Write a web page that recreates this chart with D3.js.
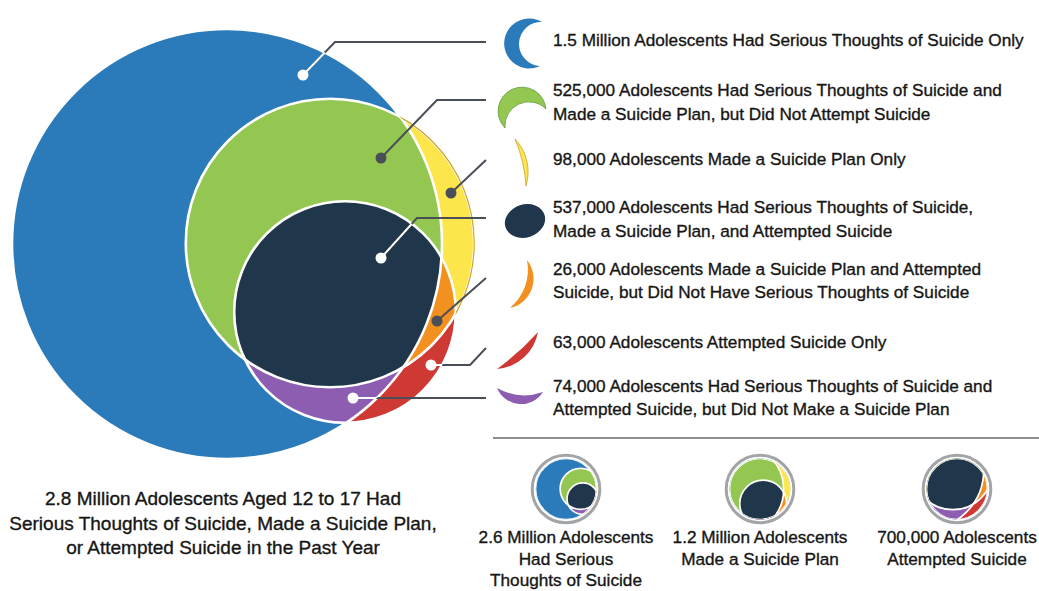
<!DOCTYPE html>
<html><head><meta charset="utf-8">
<script src="https://cdn.jsdelivr.net/npm/d3@7"></script>
<style>
body{margin:0;background:#fff;}
text{font-family:"Liberation Sans Narrow","Arial Narrow","Liberation Sans",sans-serif;fill:#161616;stroke:#161616;stroke-width:0.35px;font-size:17.2px;}
</style></head><body>
<svg id="chart" width="1039" height="591"></svg>
<script>
// ---------------- data ----------------
const regionKeys = ["T","TP","P","TPA","PA","A","TA"]; // T = thoughts, P = plan, A = attempt
const regionValues = [1500000, 525000, 98000, 537000, 26000, 63000, 74000];
const regionColors = ["#2b7bbb","#94c751","#fde64b","#20364a","#f29020","#cf3934","#8d5db2"];
const regionText = [
  ["Had Serious Thoughts of Suicide Only"],
  ["Had Serious Thoughts of Suicide and","Made a Suicide Plan, but Did Not Attempt Suicide"],
  ["Made a Suicide Plan Only"],
  ["Had Serious Thoughts of Suicide,","Made a Suicide Plan, and Attempted Suicide"],
  ["Made a Suicide Plan and Attempted","Suicide, but Did Not Have Serious Thoughts of Suicide"],
  ["Attempted Suicide Only"],
  ["Had Serious Thoughts of Suicide and","Attempted Suicide, but Did Not Make a Suicide Plan"]
];
const setKeys = ["T","P","A"];
const setText = [["Had Serious","Thoughts of Suicide"],["Made a Suicide Plan"],["Attempted Suicide"]];
const totalText = ["Aged 12 to 17 Had","Serious Thoughts of Suicide, Made a Suicide Plan,","or Attempted Suicide in the Past Year"];

// ---------------- helpers ----------------
const fmt = v => v >= 1e6 ? d3.format(".1f")(v/1e6) + " Million" : d3.format(",")(Math.round(v/1000)*1000);
const col = {}; regionKeys.forEach((k,i)=>col[k]=regionColors[i]);
const svg = d3.select("#chart");
const defs = svg.append("defs");

const total = d3.sum(regionValues);
const setTotals = setKeys.map(k => d3.sum(regionValues.filter((v,i)=>regionKeys[i].includes(k))));
const rScale = d3.scaleSqrt().domain([0, d3.max(setTotals)]).range([0, 215]);
const centers = {T:[227,244], P:[330,243], A:[345,312]};
const circ = {};
setKeys.forEach((k,i)=>circ[k] = {x:centers[k][0], y:centers[k][1], r:rScale(setTotals[i])});

setKeys.forEach(k => defs.append("clipPath").attr("id","clip"+k)
  .append("circle").attr("cx",circ[k].x).attr("cy",circ[k].y).attr("r",circ[k].r));
const mk = defs.append("mask").attr("id","maskOut").attr("maskUnits","userSpaceOnUse")
  .attr("x",-2000).attr("y",-2000).attr("width",5000).attr("height",5000);
mk.append("rect").attr("x",-2000).attr("y",-2000).attr("width",5000).attr("height",5000).attr("fill","#fff");
["T","A"].forEach(k=>mk.append("circle").attr("cx",circ[k].x).attr("cy",circ[k].y).attr("r",circ[k].r).attr("fill","#000"));

function drawVenn(g, sw){
  const c = (parent,k) => parent.append("circle").attr("cx",circ[k].x).attr("cy",circ[k].y).attr("r",circ[k].r);
  c(g,"T").attr("fill",col.T);
  c(g,"P").attr("fill",col.P);
  c(g,"A").attr("fill",col.A);
  c(g,"P").attr("fill",col.TP).attr("clip-path","url(#clipT)");
  c(g,"A").attr("fill",col.PA).attr("clip-path","url(#clipP)");
  c(g,"A").attr("fill",col.TA).attr("clip-path","url(#clipT)");
  const gg = g.append("g").attr("clip-path","url(#clipP)");
  c(gg,"A").attr("fill",col.TPA).attr("clip-path","url(#clipT)");
  setKeys.forEach(k => c(g,k).attr("fill","none").attr("stroke","#fff").attr("stroke-width",sw));
  c(g,"P").attr("fill","none").attr("stroke","#c9a230").attr("stroke-width",sw*0.45).attr("mask","url(#maskOut)");
}

// ---------------- main venn ----------------
drawVenn(svg.append("g"), 2.6);

// leaders
const lineCol = "#4a4e58";
const leaders = [
  {pts:[[303,75],[335,42],[486,42]], dot:"#fff", clip:["T"]},
  {pts:[[381,158],[437,100],[486,100]], dot:lineCol},
  {pts:[[451,193],[486,160]], dot:lineCol},
  {pts:[[381,258],[417,218],[486,218]], dot:"#fff", clip:["A"]},
  {pts:[[437,321],[486,278]], dot:lineCol},
  {pts:[[431,365],[470,365],[486,348]], dot:"#fff", clip:["A"]},
  {pts:[[353,398],[486,398]], dot:"#fff", clip:["A","T"]}
];
const line = d3.line();
const lg = svg.append("g");
leaders.forEach(L=>{
  lg.append("path").attr("d",line(L.pts)).attr("fill","none").attr("stroke",lineCol).attr("stroke-width",2);
  if(L.clip){
    let p = lg;
    L.clip.slice(1).forEach(k=>{p = p.append("g").attr("clip-path","url(#clip"+k+")");});
    p.append("path").attr("d",line(L.pts)).attr("fill","none").attr("stroke","#fff").attr("stroke-width",2)
      .attr("clip-path","url(#clip"+L.clip[0]+")");
  }
  lg.append("circle").attr("cx",L.pts[0][0]).attr("cy",L.pts[0][1]).attr("r",5.5).attr("fill",L.dot);
});

// legend icons
const arcPath = (t1,t2,r1,l1,s1,r2,l2,s2) =>
  `M${t1[0]},${t1[1]}A${r1},${r1} 0 ${l1} ${s1} ${t2[0]},${t2[1]}A${r2},${r2} 0 ${l2} ${s2} ${t1[0]},${t1[1]}Z`;
const icons = [
  {d:arcPath([542,22],[540,66],25,1,0,22,0,1)},
  {d:arcPath([505,128],[546,109],24,1,1,24,0,0), stroke:"#5f9c3a"},
  {d:arcPath([515,139],[526,186],48,0,1,140,0,0), stroke:"#c9a230"},
  {ellipse:true},
  {d:arcPath([527,260],[510,308],30,0,1,50,0,0)},
  {d:arcPath([538,332],[497,369],45,0,1,250,0,0)},
  {d:arcPath([497,388],[543,392],26,0,0,56,0,1)}
];
const ig = svg.append("g");
icons.forEach((ic,i)=>{
  if(ic.ellipse){
    ig.append("ellipse").attr("cx",525).attr("cy",221).attr("rx",20.5).attr("ry",16.5)
      .attr("transform","rotate(-18,525,221)").attr("fill",regionColors[i]);
  } else {
    ig.append("path").attr("d",ic.d).attr("fill",regionColors[i])
      .attr("stroke",ic.stroke||"none").attr("stroke-width",ic.stroke?0.8:0);
  }
});

// legend text
const legendY = [[46],[96,120],[165],[213,237],[275,298],[348],[392,415]];
const tg = svg.append("g");
regionText.forEach((lines,i)=>{
  lines.forEach((s,j)=>{
    tg.append("text").attr("x",553).attr("y",legendY[i][j])
      .text(j===0 ? fmt(regionValues[i]) + " Adolescents " + s : s);
  });
});

// divider
svg.append("line").attr("x1",493).attr("x2",1039).attr("y1",438).attr("y2",438)
  .attr("stroke","#8e8e8e").attr("stroke-width",2);

// ---------------- mini circles ----------------
const miniX = [566, 760, 957], miniY = 489, miniR = 30.5;
setKeys.forEach((k,i)=>{
  const s = miniR / circ[k].r;
  const outer = svg.append("g").attr("transform",`translate(${miniX[i]},${miniY}) scale(${s}) translate(${-circ[k].x},${-circ[k].y})`);
  const inner = outer.append("g").attr("clip-path","url(#clip"+k+")");
  drawVenn(inner, 1.7/s);
  svg.append("circle").attr("cx",miniX[i]).attr("cy",miniY).attr("r",33.8)
    .attr("fill","none").attr("stroke","#a2a5a7").attr("stroke-width",3);
  const lines = [fmt(setTotals[i]) + " Adolescents"].concat(setText[i]);
  lines.forEach((s2,j)=>{
    svg.append("text").attr("x",miniX[i]).attr("y",543 + j*21.5).attr("text-anchor","middle").text(s2);
  });
});

// ---------------- total caption ----------------
totalText.forEach((s,j)=>{
  svg.append("text").attr("x",223).attr("y",505 + j*24.5).attr("text-anchor","middle")
    .style("font-size","19px")
    .text(j===0 ? fmt(total) + " Adolescents " + s : s);
});
</script>
</body></html>
